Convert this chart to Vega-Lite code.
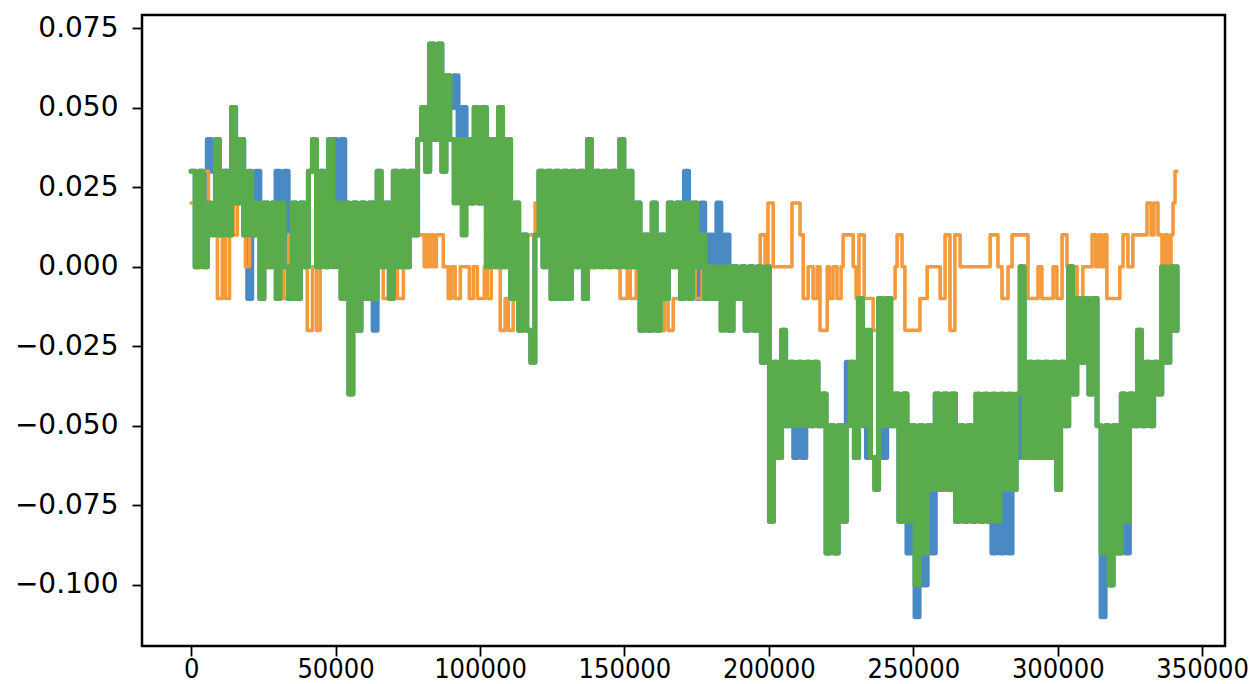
{
"$schema": "https://vega.github.io/schema/vega-lite/v6.json",
"width": 1083, "height": 631,
"autosize": "none",
"padding": {"left": 142, "top": 15, "right": 35, "bottom": 38},
"background": "white",
"config": {
 "view": {"stroke": "black", "strokeWidth": 2.5},
 "axis": {"grid": false, "domain": false, "tickColor": "black", "tickWidth": 1.8, "tickSize": 10, "labelColor": "black", "labelFont": "DejaVu Sans", "title": null, "labelOverlap": false, "labelFlush": false}
},
"datasets": {
"blue": [
{"x":0,"y":0.03},{"x":1400,"y":0},{"x":2800,"y":0.03},{"x":4200,"y":0},{"x":5600,"y":0.04},{"x":7000,"y":0.03},{"x":8400,"y":0.04},{"x":9800,"y":0.01},{"x":11200,"y":0.03},{"x":12600,"y":0.01},
{"x":14000,"y":0.05},{"x":15400,"y":0.02},{"x":16800,"y":0.04},{"x":18200,"y":0.01},{"x":19600,"y":-0.01},{"x":21000,"y":0.01},{"x":22400,"y":0.03},{"x":23800,"y":-0.01},{"x":25200,"y":0.02},{"x":26600,"y":0},
{"x":28000,"y":0.02},{"x":29400,"y":0.03},{"x":30800,"y":0},{"x":32200,"y":0.03},{"x":33600,"y":-0.01},{"x":35000,"y":0.02},{"x":36400,"y":-0.01},{"x":37800,"y":0.02},{"x":39200,"y":0},{"x":40600,"y":0.03},
{"x":42000,"y":0.04},{"x":43400,"y":0},{"x":44800,"y":0.03},{"x":46200,"y":0},{"x":47600,"y":0.04},{"x":49000,"y":0.04},{"x":50400,"y":0.02},{"x":51800,"y":0.04},{"x":53200,"y":0.02},{"x":54600,"y":-0.04},
{"x":56000,"y":0.02},{"x":57400,"y":-0.02},{"x":58800,"y":0.02},{"x":60200,"y":-0.01},{"x":61600,"y":0.02},{"x":63000,"y":-0.02},{"x":64400,"y":0.03},{"x":65800,"y":0},{"x":67200,"y":0.02},{"x":68600,"y":-0.01},
{"x":70000,"y":0.03},{"x":71400,"y":0},{"x":72800,"y":0.03},{"x":74200,"y":0},{"x":75600,"y":0.03},{"x":77000,"y":0.01},{"x":78400,"y":0.04},{"x":79800,"y":0.05},{"x":81200,"y":0.03},{"x":82600,"y":0.07},
{"x":84000,"y":0.04},{"x":85400,"y":0.07},{"x":86800,"y":0.03},{"x":88200,"y":0.06},{"x":89600,"y":0.05},{"x":91000,"y":0.06},{"x":92400,"y":0.04},{"x":93800,"y":0.05},{"x":95200,"y":0.04},{"x":96600,"y":0.02},
{"x":98000,"y":0.05},{"x":99400,"y":0.02},{"x":100800,"y":0.05},{"x":102200,"y":0},{"x":103600,"y":0.04},{"x":105000,"y":0},{"x":106400,"y":0.05},{"x":107800,"y":0},{"x":109200,"y":0.04},{"x":110600,"y":-0.01},
{"x":112000,"y":0.02},{"x":113400,"y":-0.02},{"x":114800,"y":0.01},{"x":116200,"y":-0.02},{"x":117600,"y":-0.03},{"x":119000,"y":0.01},{"x":120400,"y":0.03},{"x":121800,"y":0},{"x":123200,"y":0.03},{"x":124600,"y":-0.01},
{"x":126000,"y":0.03},{"x":127400,"y":-0.01},{"x":128800,"y":0.03},{"x":130200,"y":-0.01},{"x":131600,"y":0.03},{"x":133000,"y":0},{"x":134400,"y":0.03},{"x":135800,"y":-0.01},{"x":137200,"y":0.04},{"x":138600,"y":0},
{"x":140000,"y":0.03},{"x":141400,"y":0},{"x":142800,"y":0.03},{"x":144200,"y":0},{"x":145600,"y":0.03},{"x":147000,"y":0},{"x":148400,"y":0.04},{"x":149800,"y":0},{"x":151200,"y":0.03},{"x":152600,"y":0},
{"x":154000,"y":0.02},{"x":155400,"y":-0.02},{"x":156800,"y":0.01},{"x":158200,"y":-0.02},{"x":159600,"y":0.02},{"x":161000,"y":-0.02},{"x":162400,"y":0.01},{"x":163800,"y":-0.01},{"x":165200,"y":0.02},{"x":166600,"y":0},
{"x":168000,"y":0.02},{"x":169400,"y":-0.01},{"x":170800,"y":0.03},{"x":172200,"y":0.01},{"x":173600,"y":0.02},{"x":175000,"y":-0.01},{"x":176400,"y":0.02},{"x":177800,"y":-0.01},{"x":179200,"y":0.01},{"x":180600,"y":-0.01},
{"x":182000,"y":0.02},{"x":183400,"y":-0.01},{"x":184800,"y":0.01},{"x":186200,"y":-0.02},{"x":187600,"y":0},{"x":189000,"y":-0.01},{"x":190400,"y":0},{"x":191800,"y":-0.02},{"x":193200,"y":0},{"x":194600,"y":-0.02},
{"x":196000,"y":0},{"x":197400,"y":-0.03},{"x":198800,"y":0},{"x":200200,"y":-0.08},{"x":201600,"y":-0.03},{"x":203000,"y":-0.06},{"x":204400,"y":-0.02},{"x":205800,"y":-0.05},{"x":207200,"y":-0.03},{"x":208600,"y":-0.06},
{"x":210000,"y":-0.03},{"x":211400,"y":-0.06},{"x":212800,"y":-0.03},{"x":214200,"y":-0.05},{"x":215600,"y":-0.03},{"x":217000,"y":-0.05},{"x":218400,"y":-0.04},{"x":219800,"y":-0.09},{"x":221200,"y":-0.05},{"x":222600,"y":-0.09},
{"x":224000,"y":-0.05},{"x":225400,"y":-0.08},{"x":226800,"y":-0.03},{"x":228200,"y":-0.03},{"x":229600,"y":-0.06},{"x":231000,"y":-0.01},{"x":232400,"y":-0.05},{"x":233800,"y":-0.06},{"x":235200,"y":-0.06},{"x":236600,"y":-0.06},
{"x":238000,"y":-0.01},{"x":239400,"y":-0.06},{"x":240800,"y":-0.01},{"x":242200,"y":-0.05},{"x":243600,"y":-0.04},{"x":245000,"y":-0.08},{"x":246400,"y":-0.04},{"x":247800,"y":-0.09},{"x":249200,"y":-0.05},{"x":250600,"y":-0.11},
{"x":252000,"y":-0.05},{"x":253400,"y":-0.1},{"x":254800,"y":-0.05},{"x":256200,"y":-0.09},{"x":257600,"y":-0.04},{"x":259000,"y":-0.07},{"x":260400,"y":-0.04},{"x":261800,"y":-0.07},{"x":263200,"y":-0.04},{"x":264600,"y":-0.08},
{"x":266000,"y":-0.05},{"x":267400,"y":-0.08},{"x":268800,"y":-0.05},{"x":270200,"y":-0.08},{"x":271600,"y":-0.06},{"x":273000,"y":-0.08},{"x":274400,"y":-0.06},{"x":275800,"y":-0.08},{"x":277200,"y":-0.09},{"x":278600,"y":-0.08},
{"x":280000,"y":-0.09},{"x":281400,"y":-0.07},{"x":282800,"y":-0.09},{"x":284200,"y":-0.07},{"x":285600,"y":-0.06},{"x":287000,"y":0},{"x":288400,"y":-0.06},{"x":289800,"y":-0.03},{"x":291200,"y":-0.06},{"x":292600,"y":-0.03},
{"x":294000,"y":-0.06},{"x":295400,"y":-0.03},{"x":296800,"y":-0.06},{"x":298200,"y":-0.03},{"x":299600,"y":-0.07},{"x":301000,"y":-0.03},{"x":302400,"y":-0.05},{"x":303800,"y":0},{"x":305200,"y":-0.04},{"x":306600,"y":-0.01},
{"x":308000,"y":-0.03},{"x":309400,"y":-0.01},{"x":310800,"y":-0.04},{"x":312200,"y":-0.01},{"x":313600,"y":-0.05},{"x":315000,"y":-0.11},{"x":316400,"y":-0.05},{"x":317800,"y":-0.1},{"x":319200,"y":-0.05},{"x":320600,"y":-0.09},
{"x":322000,"y":-0.04},{"x":323400,"y":-0.09},{"x":324800,"y":-0.04},{"x":326200,"y":-0.05},{"x":327600,"y":-0.02},{"x":329000,"y":-0.05},{"x":330400,"y":-0.03},{"x":331800,"y":-0.05},{"x":333200,"y":-0.03},{"x":334600,"y":-0.04},
{"x":336000,"y":0},{"x":337400,"y":-0.03},{"x":338800,"y":0},{"x":340200,"y":-0.02},{"x":341300,"y":0}
],
"orange": [
{"x":0,"y":0.02},{"x":1800,"y":0.01},{"x":3900,"y":0.03},{"x":6000,"y":0.01},{"x":7700,"y":0.02},{"x":9100,"y":-0.01},{"x":10800,"y":0.01},{"x":11900,"y":-0.01},{"x":13300,"y":0.02},{"x":14600,"y":0.01},
{"x":16000,"y":0.02},{"x":18800,"y":0},{"x":20200,"y":0.02},{"x":22200,"y":0.01},{"x":24000,"y":0.02},{"x":26100,"y":0.01},{"x":28100,"y":0.02},{"x":31900,"y":-0.01},{"x":33700,"y":0.01},{"x":35700,"y":0.02},
{"x":37800,"y":0.01},{"x":40200,"y":-0.02},{"x":42000,"y":0},{"x":43400,"y":-0.02},{"x":44700,"y":0},{"x":45800,"y":0.01},{"x":48200,"y":0.02},{"x":50300,"y":0.01},{"x":53400,"y":0.02},{"x":55100,"y":0},
{"x":57500,"y":-0.01},{"x":59600,"y":0.01},{"x":62000,"y":0.02},{"x":64100,"y":0.01},{"x":66500,"y":-0.01},{"x":69000,"y":0.01},{"x":71400,"y":-0.01},{"x":73500,"y":0.01},{"x":75900,"y":0.02},{"x":78300,"y":0.01},
{"x":80700,"y":0},{"x":81400,"y":0.01},{"x":82100,"y":0},{"x":82800,"y":0.01},{"x":83800,"y":0},{"x":84900,"y":0.01},{"x":87300,"y":0},{"x":89000,"y":-0.01},{"x":90100,"y":0},{"x":91400,"y":-0.01},
{"x":93200,"y":0},{"x":96300,"y":-0.01},{"x":97700,"y":0},{"x":99100,"y":-0.01},{"x":101500,"y":0},{"x":102500,"y":-0.01},{"x":103900,"y":0},{"x":105300,"y":0.02},{"x":107000,"y":-0.02},{"x":108700,"y":-0.01},
{"x":109800,"y":-0.02},{"x":111500,"y":-0.01},{"x":113200,"y":0},{"x":115700,"y":0.01},{"x":119100,"y":0.02},{"x":122600,"y":0.01},{"x":126000,"y":0},{"x":129500,"y":0.01},{"x":133000,"y":0.02},{"x":136400,"y":0.01},
{"x":139900,"y":0},{"x":143300,"y":0.01},{"x":145800,"y":0},{"x":148500,"y":-0.01},{"x":151000,"y":0},{"x":152000,"y":-0.01},{"x":154100,"y":0},{"x":156100,"y":0.01},{"x":158200,"y":0},{"x":161300,"y":-0.02},
{"x":163800,"y":-0.01},{"x":165100,"y":-0.02},{"x":166900,"y":-0.01},{"x":170000,"y":0},{"x":174500,"y":-0.01},{"x":176900,"y":0},{"x":197000,"y":0.01},{"x":198700,"y":0},{"x":199700,"y":0.02},{"x":201500,"y":0},
{"x":208000,"y":0.02},{"x":210800,"y":0.01},{"x":211900,"y":-0.01},{"x":213600,"y":0},{"x":215300,"y":-0.01},{"x":216700,"y":0},{"x":217700,"y":-0.02},{"x":220200,"y":0},{"x":220900,"y":-0.01},{"x":222200,"y":0},
{"x":223600,"y":-0.01},{"x":225000,"y":0},{"x":225700,"y":0.01},{"x":229200,"y":0},{"x":230200,"y":-0.01},{"x":231200,"y":0.01},{"x":233000,"y":-0.01},{"x":236100,"y":-0.02},{"x":238500,"y":-0.01},{"x":243700,"y":0},
{"x":244400,"y":0.01},{"x":246100,"y":0},{"x":247100,"y":-0.02},{"x":252300,"y":-0.01},{"x":254800,"y":0},{"x":259300,"y":-0.01},{"x":261000,"y":0.01},{"x":262700,"y":-0.02},{"x":264400,"y":0.01},{"x":266200,"y":0},
{"x":276600,"y":0.01},{"x":279300,"y":0},{"x":280700,"y":-0.01},{"x":282800,"y":0},{"x":284200,"y":0.01},{"x":289700,"y":-0.01},{"x":293200,"y":0},{"x":294500,"y":-0.01},{"x":298400,"y":0},{"x":299700,"y":-0.01},
{"x":301500,"y":0.01},{"x":303200,"y":0},{"x":306700,"y":-0.01},{"x":308700,"y":0},{"x":311900,"y":0.01},{"x":313200,"y":0},{"x":314300,"y":0.01},{"x":315300,"y":0},{"x":316300,"y":0.01},{"x":317000,"y":-0.01},
{"x":321500,"y":0},{"x":322600,"y":0.01},{"x":324300,"y":0},{"x":326000,"y":0.01},{"x":330900,"y":0.02},{"x":332300,"y":0.01},{"x":333300,"y":0.02},{"x":334700,"y":0.01},{"x":336100,"y":0},{"x":337100,"y":0.01},
{"x":338100,"y":0},{"x":339200,"y":0.01},{"x":339900,"y":0.02},{"x":340600,"y":0.03},{"x":341300,"y":0.03}
],
"green": [
{"x":0,"y":0.03},{"x":1400,"y":0},{"x":2800,"y":0.03},{"x":4200,"y":0},{"x":5600,"y":0.02},{"x":7000,"y":0.01},{"x":8400,"y":0.04},{"x":9800,"y":0.01},{"x":11200,"y":0.03},{"x":12600,"y":0.01},
{"x":14000,"y":0.05},{"x":15400,"y":0.02},{"x":16800,"y":0.04},{"x":18200,"y":0.01},{"x":19600,"y":0.03},{"x":21000,"y":0.01},{"x":22400,"y":0.02},{"x":23800,"y":-0.01},{"x":25200,"y":0.02},{"x":26600,"y":0},
{"x":28000,"y":0.02},{"x":29400,"y":-0.01},{"x":30800,"y":0.02},{"x":32200,"y":0},{"x":33600,"y":-0.01},{"x":35000,"y":0.02},{"x":36400,"y":-0.01},{"x":37800,"y":0.02},{"x":39200,"y":0},{"x":40600,"y":0.03},
{"x":42000,"y":0.04},{"x":43400,"y":0},{"x":44800,"y":0.03},{"x":46200,"y":0},{"x":47600,"y":0.04},{"x":49000,"y":0},{"x":50400,"y":0.02},{"x":51800,"y":-0.01},{"x":53200,"y":0.02},{"x":54600,"y":-0.04},
{"x":56000,"y":0.02},{"x":57400,"y":-0.02},{"x":58800,"y":0.02},{"x":60200,"y":-0.01},{"x":61600,"y":0.02},{"x":63000,"y":-0.01},{"x":64400,"y":0.03},{"x":65800,"y":0},{"x":67200,"y":0.02},{"x":68600,"y":-0.01},
{"x":70000,"y":0.03},{"x":71400,"y":0},{"x":72800,"y":0.03},{"x":74200,"y":0},{"x":75600,"y":0.03},{"x":77000,"y":0.01},{"x":78400,"y":0.04},{"x":79800,"y":0.05},{"x":81200,"y":0.03},{"x":82600,"y":0.07},
{"x":84000,"y":0.04},{"x":85400,"y":0.07},{"x":86800,"y":0.03},{"x":88200,"y":0.06},{"x":89600,"y":0.04},{"x":91000,"y":0.02},{"x":92400,"y":0.04},{"x":93800,"y":0.01},{"x":95200,"y":0.04},{"x":96600,"y":0.02},
{"x":98000,"y":0.05},{"x":99400,"y":0.02},{"x":100800,"y":0.05},{"x":102200,"y":0},{"x":103600,"y":0.04},{"x":105000,"y":0},{"x":106400,"y":0.05},{"x":107800,"y":0},{"x":109200,"y":0.04},{"x":110600,"y":-0.01},
{"x":112000,"y":0.02},{"x":113400,"y":-0.02},{"x":114800,"y":0.01},{"x":116200,"y":-0.02},{"x":117600,"y":-0.03},{"x":119000,"y":0.01},{"x":120400,"y":0.03},{"x":121800,"y":0},{"x":123200,"y":0.03},{"x":124600,"y":-0.01},
{"x":126000,"y":0.03},{"x":127400,"y":-0.01},{"x":128800,"y":0.03},{"x":130200,"y":-0.01},{"x":131600,"y":0.03},{"x":133000,"y":0},{"x":134400,"y":0.03},{"x":135800,"y":-0.01},{"x":137200,"y":0.04},{"x":138600,"y":0},
{"x":140000,"y":0.03},{"x":141400,"y":0},{"x":142800,"y":0.03},{"x":144200,"y":0},{"x":145600,"y":0.03},{"x":147000,"y":0},{"x":148400,"y":0.04},{"x":149800,"y":0},{"x":151200,"y":0.03},{"x":152600,"y":0},
{"x":154000,"y":0.02},{"x":155400,"y":-0.02},{"x":156800,"y":0.01},{"x":158200,"y":-0.02},{"x":159600,"y":0.02},{"x":161000,"y":-0.02},{"x":162400,"y":0.01},{"x":163800,"y":-0.01},{"x":165200,"y":0.02},{"x":166600,"y":0},
{"x":168000,"y":0.02},{"x":169400,"y":-0.01},{"x":170800,"y":0.02},{"x":172200,"y":-0.01},{"x":173600,"y":0.02},{"x":175000,"y":0},{"x":176400,"y":0.01},{"x":177800,"y":-0.01},{"x":179200,"y":0},{"x":180600,"y":-0.01},
{"x":182000,"y":0},{"x":183400,"y":-0.02},{"x":184800,"y":0},{"x":186200,"y":-0.02},{"x":187600,"y":0},{"x":189000,"y":-0.01},{"x":190400,"y":0},{"x":191800,"y":-0.02},{"x":193200,"y":0},{"x":194600,"y":-0.02},
{"x":196000,"y":0},{"x":197400,"y":-0.03},{"x":198800,"y":0},{"x":200200,"y":-0.08},{"x":201600,"y":-0.03},{"x":203000,"y":-0.06},{"x":204400,"y":-0.02},{"x":205800,"y":-0.05},{"x":207200,"y":-0.03},{"x":208600,"y":-0.05},
{"x":210000,"y":-0.03},{"x":211400,"y":-0.05},{"x":212800,"y":-0.03},{"x":214200,"y":-0.05},{"x":215600,"y":-0.03},{"x":217000,"y":-0.05},{"x":218400,"y":-0.04},{"x":219800,"y":-0.09},{"x":221200,"y":-0.05},{"x":222600,"y":-0.09},
{"x":224000,"y":-0.05},{"x":225400,"y":-0.08},{"x":226800,"y":-0.05},{"x":228200,"y":-0.03},{"x":229600,"y":-0.06},{"x":231000,"y":-0.01},{"x":232400,"y":-0.05},{"x":233800,"y":-0.02},{"x":235200,"y":-0.06},{"x":236600,"y":-0.07},
{"x":238000,"y":-0.01},{"x":239400,"y":-0.05},{"x":240800,"y":-0.01},{"x":242200,"y":-0.05},{"x":243600,"y":-0.04},{"x":245000,"y":-0.08},{"x":246400,"y":-0.04},{"x":247800,"y":-0.08},{"x":249200,"y":-0.05},{"x":250600,"y":-0.1},
{"x":252000,"y":-0.05},{"x":253400,"y":-0.09},{"x":254800,"y":-0.05},{"x":256200,"y":-0.07},{"x":257600,"y":-0.04},{"x":259000,"y":-0.07},{"x":260400,"y":-0.04},{"x":261800,"y":-0.07},{"x":263200,"y":-0.04},{"x":264600,"y":-0.08},
{"x":266000,"y":-0.05},{"x":267400,"y":-0.08},{"x":268800,"y":-0.05},{"x":270200,"y":-0.08},{"x":271600,"y":-0.04},{"x":273000,"y":-0.08},{"x":274400,"y":-0.04},{"x":275800,"y":-0.08},{"x":277200,"y":-0.04},{"x":278600,"y":-0.08},
{"x":280000,"y":-0.04},{"x":281400,"y":-0.07},{"x":282800,"y":-0.04},{"x":284200,"y":-0.07},{"x":285600,"y":-0.04},{"x":287000,"y":0},{"x":288400,"y":-0.06},{"x":289800,"y":-0.03},{"x":291200,"y":-0.06},{"x":292600,"y":-0.03},
{"x":294000,"y":-0.06},{"x":295400,"y":-0.03},{"x":296800,"y":-0.06},{"x":298200,"y":-0.03},{"x":299600,"y":-0.07},{"x":301000,"y":-0.03},{"x":302400,"y":-0.05},{"x":303800,"y":0},{"x":305200,"y":-0.04},{"x":306600,"y":-0.01},
{"x":308000,"y":-0.03},{"x":309400,"y":-0.01},{"x":310800,"y":-0.04},{"x":312200,"y":-0.01},{"x":313600,"y":-0.05},{"x":315000,"y":-0.09},{"x":316400,"y":-0.05},{"x":317800,"y":-0.1},{"x":319200,"y":-0.05},{"x":320600,"y":-0.09},
{"x":322000,"y":-0.04},{"x":323400,"y":-0.08},{"x":324800,"y":-0.04},{"x":326200,"y":-0.05},{"x":327600,"y":-0.02},{"x":329000,"y":-0.05},{"x":330400,"y":-0.03},{"x":331800,"y":-0.05},{"x":333200,"y":-0.03},{"x":334600,"y":-0.04},
{"x":336000,"y":0},{"x":337400,"y":-0.03},{"x":338800,"y":0},{"x":340200,"y":-0.02},{"x":341300,"y":0}
]
},
"encoding": {
 "x": {"field": "x", "type": "quantitative", "scale": {"domain": [-17000, 357900], "nice": false, "zero": false},
   "axis": {"values": [0,50000,100000,150000,200000,250000,300000,350000], "format": "d", "labelFont": "DejaVu Sans Condensed", "labelFontSize": 27, "labelPadding": 0}},
 "y": {"field": "y", "type": "quantitative", "scale": {"domain": [-0.1192, 0.0791], "nice": false, "zero": false},
   "axis": {"values": [-0.1,-0.075,-0.05,-0.025,0,0.025,0.05,0.075], "format": ".3f", "labelFontSize": 28, "labelPadding": 14}}
},
"layer": [
 {"data": {"name": "blue"}, "mark": {"type": "line", "interpolate": "step-after", "color": "#4a8ac4", "strokeWidth": 5, "strokeJoin": "round", "strokeCap": "round", "clip": true}},
 {"data": {"name": "orange"}, "mark": {"type": "line", "interpolate": "step-after", "color": "#f39a3c", "strokeWidth": 3.6, "strokeJoin": "round", "strokeCap": "round", "clip": true}},
 {"data": {"name": "green"}, "mark": {"type": "line", "interpolate": "step-after", "color": "#5aab4b", "strokeWidth": 5, "strokeJoin": "round", "strokeCap": "round", "clip": true}}
]
}
